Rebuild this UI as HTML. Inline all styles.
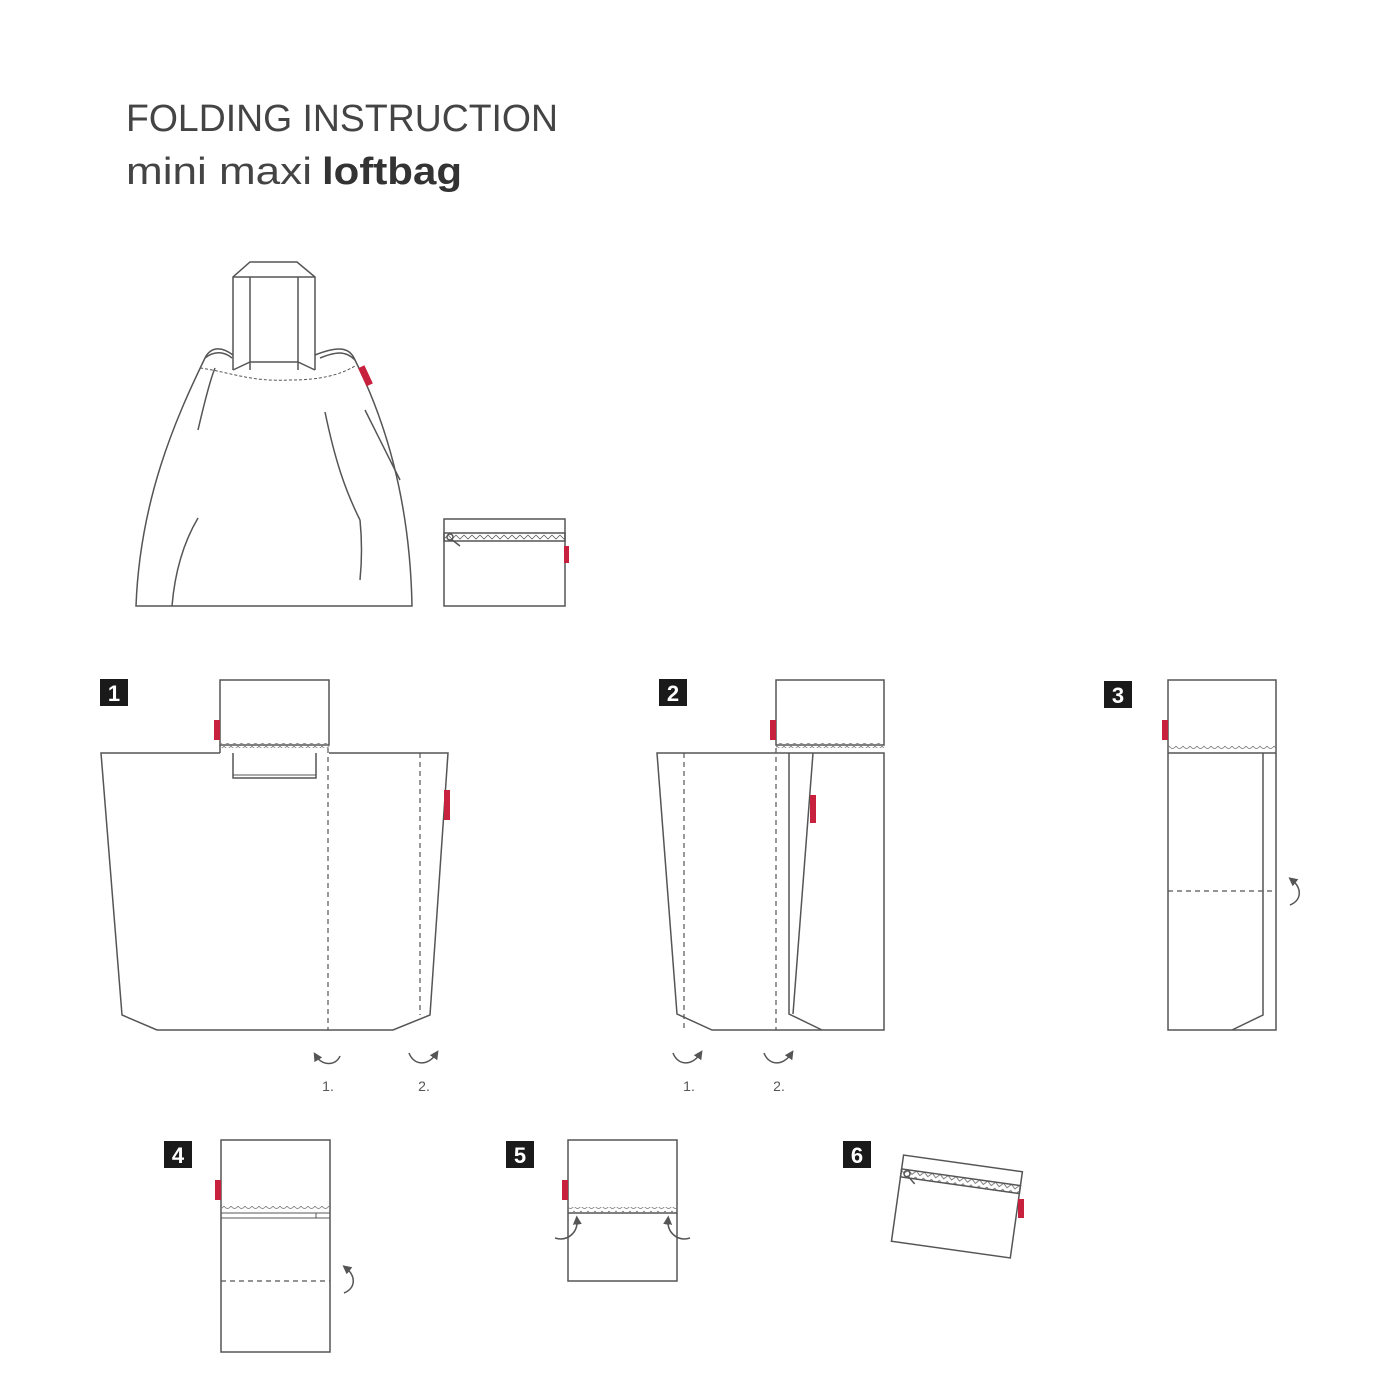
<!DOCTYPE html>
<html><head><meta charset="utf-8"><style>
html,body{margin:0;padding:0;background:#fff}
svg{display:block}
.t{font-family:"Liberation Sans",sans-serif;fill:#333}
</style></head><body>
<svg width="1400" height="1400" viewBox="0 0 1400 1400" xmlns="http://www.w3.org/2000/svg">
<defs>
<marker id="ah" viewBox="0 0 10 10" refX="5" refY="5" markerWidth="6" markerHeight="6" orient="auto-start-reverse"><path d="M0,0 L10,5 L0,10 z" fill="#555"/></marker>
<pattern id="sc" width="7" height="5" patternUnits="userSpaceOnUse"><path d="M0,1 Q3.5,6 7,1" fill="none" stroke="#777" stroke-width="0.8"/></pattern>
<pattern id="zz" width="8" height="6" patternUnits="userSpaceOnUse"><path d="M0,1 L4,5 L8,1" fill="none" stroke="#666" stroke-width="0.8"/></pattern>
</defs>
<text x="126" y="131" class="t" font-size="38" style="fill:#444" textLength="432" lengthAdjust="spacingAndGlyphs">FOLDING INSTRUCTION</text>
<text x="126" y="184" class="t" font-size="38" style="fill:#444" textLength="186" lengthAdjust="spacingAndGlyphs">mini maxi</text>
<text x="322" y="184" class="t" font-size="38" font-weight="bold" textLength="140" lengthAdjust="spacingAndGlyphs">loftbag</text>

<g fill="none" stroke="#555" stroke-width="1.5">
<!-- bag -->
<path d="M233,370 V277 L250,262 H297 L315,277 V370"/>
<path d="M250,370 V277 H298 V370 M250,277 L233,277 M298,277 L315,277"/>
<path d="M233,370 L250,362 H298 L315,370"/>
<path d="M233,355 C220,345 210,348 205,358 C175,420 140,500 136,606 H412 C410,500 385,420 355,360 C350,348 340,345 315,355"/>
<path d="M205,358 C215,350 225,352 232,358 M355,360 C345,350 335,352 320,358"/>
<path d="M198,430 C205,400 210,380 215,368 M325,412 C335,460 345,490 360,520 M365,410 C380,440 395,470 400,480 M198,518 C185,540 175,570 172,606 M360,520 C362,540 362,560 360,580"/>
<path d="M200,368 C230,372 250,382 290,380 C320,380 340,375 355,366" stroke-dasharray="3,2" stroke-width="1"/>
<!-- pouch -->
<rect x="444" y="519" width="121" height="87"/>
<rect x="444" y="533" width="121" height="8" fill="url(#zz)"/>
<circle cx="450" cy="537" r="3"/><path d="M451,539 L460,546"/>
</g>
<rect x="362" y="366" width="7" height="20" fill="#c8213e" transform="rotate(-25 365 376)"/>
<rect x="564" y="546" width="5" height="17" fill="#c8213e"/>

<g class="t" font-weight="bold" font-size="22">
<rect x="100" y="679" width="28" height="27" fill="#1a1a1a"/><text x="114" y="701" text-anchor="middle" style="fill:#fff">1</text>
<rect x="659" y="679" width="28" height="27" fill="#1a1a1a"/><text x="673" y="701" text-anchor="middle" style="fill:#fff">2</text>
<rect x="1104" y="681" width="28" height="27" fill="#1a1a1a"/><text x="1118" y="703" text-anchor="middle" style="fill:#fff">3</text>
<rect x="164" y="1141" width="28" height="27" fill="#1a1a1a"/><text x="178" y="1163" text-anchor="middle" style="fill:#fff">4</text>
<rect x="506" y="1141" width="28" height="27" fill="#1a1a1a"/><text x="520" y="1163" text-anchor="middle" style="fill:#fff">5</text>
<rect x="843" y="1141" width="28" height="27" fill="#1a1a1a"/><text x="857" y="1163" text-anchor="middle" style="fill:#fff">6</text>
</g>

<g fill="none" stroke="#555" stroke-width="1.5">
<!-- step 1 -->
<rect x="220" y="680" width="109" height="65"/>
<rect x="220" y="743" width="109" height="5" fill="url(#sc)" stroke="none"/>
<path d="M220,753 H101 L122,1015 L157,1030 H393 L430,1015 L448,753 H329"/>
<path d="M220,745 V753 M233,753 V778 H316 V753"/>
<path d="M233,775 H316" stroke-width="1"/>
<path d="M328,748 V1030 M420,753 V1015" stroke-dasharray="5,4" stroke-width="1.2"/>
<path d="M316,1056 C322,1066 336,1066 340,1056" marker-start="url(#ah)"/>
<path d="M409,1053 C414,1066 428,1066 436,1054" marker-end="url(#ah)"/>
<!-- step 2 -->
<rect x="776" y="680" width="108" height="65"/>
<rect x="776" y="743" width="108" height="5" fill="url(#sc)" stroke="none"/>
<path d="M657,753 H884 V1030 H712 L677,1014 Z"/>
<path d="M789,753 V1014 L822,1030 M813,753 L793,1014"/>
<path d="M684,753 V1030 M776,748 V1030" stroke-dasharray="5,4" stroke-width="1.2"/>
<path d="M673,1053 C678,1066 692,1066 700,1054" marker-end="url(#ah)"/>
<path d="M764,1053 C769,1066 783,1066 791,1054" marker-end="url(#ah)"/>
<!-- step 3 -->
<rect x="1168" y="680" width="108" height="350"/>
<rect x="1168" y="744" width="108" height="5" fill="url(#sc)" stroke="none"/>
<path d="M1168,753 H1276 M1263,753 V1015 L1232,1030"/>
<path d="M1168,891 H1276" stroke-dasharray="5,4" stroke-width="1.2"/>
<path d="M1290,905 C1302,900 1302,888 1292,880" marker-end="url(#ah)"/>
<!-- step 4 -->
<rect x="221" y="1140" width="109" height="212"/>
<rect x="221" y="1206" width="109" height="5" fill="url(#sc)" stroke="none"/>
<path d="M221,1213 H330 M221,1218 H330 M316,1213 V1218" stroke-width="1"/>
<path d="M221,1281 H330" stroke-dasharray="5,4" stroke-width="1.2"/>
<path d="M344,1293 C356,1288 356,1276 346,1268" marker-end="url(#ah)"/>
<!-- step 5 -->
<rect x="568" y="1140" width="109" height="141"/>
<rect x="568" y="1207" width="109" height="5" fill="url(#sc)" stroke="none"/>
<path d="M568,1213 H677"/>
<path d="M555,1238 C568,1242 578,1232 577,1220" marker-end="url(#ah)"/>
<path d="M690,1238 C677,1242 667,1232 668,1220" marker-end="url(#ah)"/>
<!-- step 6 -->
<g transform="rotate(8 957 1206)">
<rect x="897" y="1163" width="120" height="87"/>
<rect x="897" y="1177" width="120" height="8" fill="url(#zz)"/>
<circle cx="903" cy="1181" r="3"/><path d="M904,1183 L912,1190"/>
</g>
</g>
<g fill="#c8213e">
<rect x="214" y="720" width="6" height="20"/>
<rect x="444" y="790" width="6" height="30"/>
<rect x="770" y="720" width="6" height="20"/>
<rect x="810" y="795" width="6" height="28"/>
<rect x="1162" y="720" width="6" height="20"/>
<rect x="215" y="1180" width="6" height="20"/>
<rect x="562" y="1180" width="6" height="20"/>
<rect x="1018" y="1199" width="6" height="19"/>
</g>
<g class="t" font-size="14" text-anchor="middle" style="fill:#555">
<text x="328" y="1091">1.</text><text x="424" y="1091">2.</text>
<text x="689" y="1091">1.</text><text x="779" y="1091">2.</text>
</g>
</svg>
</body></html>
